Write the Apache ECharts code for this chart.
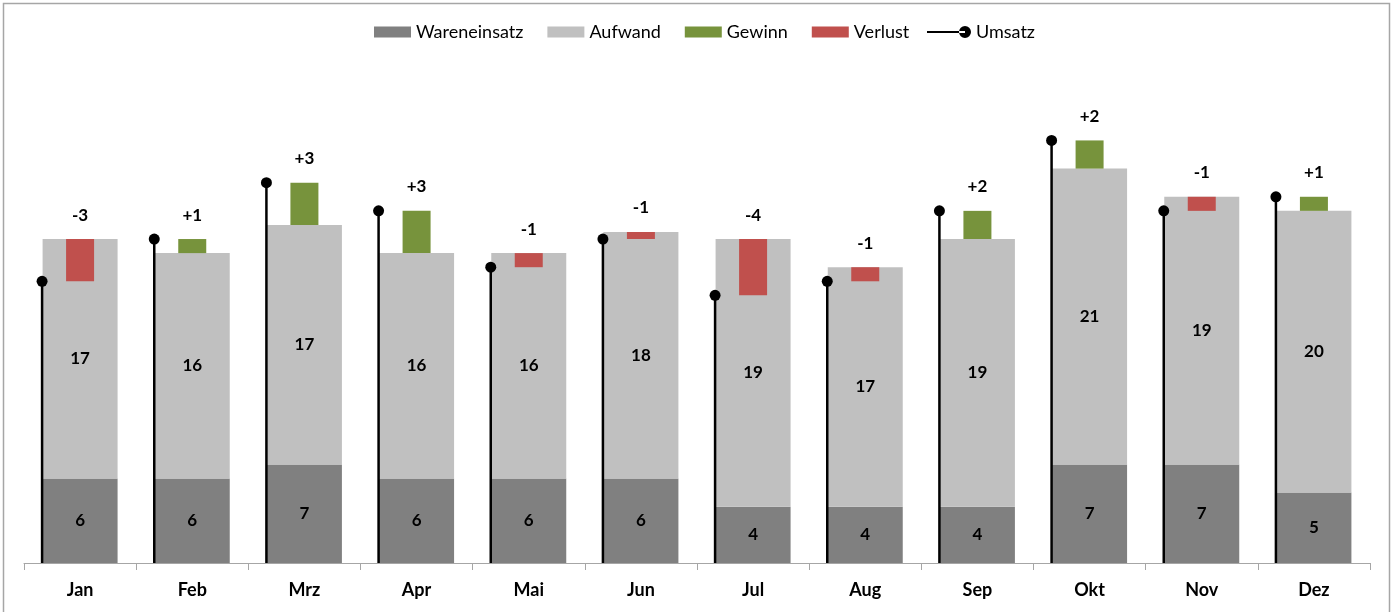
<!DOCTYPE html>
<html>
<head>
<meta charset="utf-8">
<script src="https://cdn.jsdelivr.net/npm/echarts@6/dist/echarts.min.js"></script>
<style>
  html, body { margin: 0; padding: 0; background: #fff; }
  #chart { width: 1397px; height: 612px; }
</style>
</head>
<body>
<div id="chart"></div>
<script>
var monate = ['Jan', 'Feb', 'Mrz', 'Apr', 'Mai', 'Jun', 'Jul', 'Aug', 'Sep', 'Okt', 'Nov', 'Dez'];
var wareneinsatz = [6, 6, 7, 6, 6, 6, 4, 4, 4, 7, 7, 5];
var aufwand = [17, 16, 17, 16, 16, 17.5, 19, 17, 19, 21, 19, 20];
var umsatz = [20, 23, 27, 25, 21, 23, 19, 20, 25, 30, 25, 26];

var FONT = 'Lato, "Open Sans", sans-serif';
var BAR_W = 75;
var ERG_W = 28;

// Gewinn/Verlust aus Umsatz minus Kosten
var gewinn = [];
var verlust = [];
monate.forEach(function (m, i) {
    var kosten = wareneinsatz[i] + aufwand[i];
    var diff = umsatz[i] - kosten;
    if (diff > 0) gewinn.push([i, kosten, umsatz[i], diff]);
    else if (diff < 0) verlust.push([i, umsatz[i], kosten, diff]);
});

function ergebnisText(d) {
    var r = Math.round(Math.abs(d));
    return (d > 0 ? '+' : '-') + r;
}

function renderErgebnis(color) {
    return function (params, api) {
        var x = api.value(0);
        var lo = api.coord([x, api.value(1)]);
        var hi = api.coord([x, api.value(2)]);
        return {
            type: 'group',
            children: [{
                type: 'rect',
                shape: { x: lo[0] - ERG_W / 2, y: hi[1], width: ERG_W, height: lo[1] - hi[1] },
                style: { fill: color }
            }, {
                type: 'text',
                x: lo[0],
                y: hi[1] - 24,
                style: {
                    text: ergebnisText(api.value(3)),
                    fill: '#000',
                    font: 'bold 17px ' + FONT,
                    align: 'center',
                    verticalAlign: 'middle'
                }
            }]
        };
    };
}

var labelStyle = {
    show: true, position: 'inside', color: '#000',
    fontFamily: FONT, fontSize: 17, fontWeight: 'bold',
    formatter: function (p) { return Math.round(p.value); }
};

var chart = echarts.init(document.getElementById('chart'));
chart.setOption({
    animation: false,
    backgroundColor: '#fff',
    graphic: [{
        type: 'rect',
        shape: { x: 3.5, y: 3.5, width: 1386, height: 620 },
        style: { fill: 'none', stroke: '#a6a6a6', lineWidth: 1.5 },
        silent: true
    }],
    legend: [{
        top: 18,
        left: 369,
        itemWidth: 37,
        itemHeight: 11,
        itemGap: 24,
        textStyle: { fontFamily: FONT, fontSize: 18, color: '#000' },
        data: [
            { name: 'Wareneinsatz', icon: 'rect' },
            { name: 'Aufwand', icon: 'rect' },
            { name: 'Gewinn', icon: 'rect' },
            { name: 'Verlust', icon: 'rect' }
        ]
    }, {
        top: 18,
        left: 922,
        itemWidth: 44,
        itemHeight: 12,
        textStyle: { fontFamily: FONT, fontSize: 18, color: '#000' },
        data: [
            { name: 'Umsatz', icon: 'path://M0,5 L38,5 L38,7 L0,7 Z M32,6 A6,6 0 1,0 44,6 A6,6 0 1,0 32,6 Z' }
        ]
    }],
    grid: { left: 24, right: 27, top: 70, bottom: 49 },
    xAxis: {
        type: 'category',
        data: monate,
        axisLine: { lineStyle: { color: '#a6a6a6', width: 1 } },
        axisTick: { show: true, length: 7, lineStyle: { color: '#a6a6a6' } },
        axisLabel: { margin: 18, color: '#000', fontFamily: FONT, fontSize: 18, fontWeight: 'bold' }
    },
    yAxis: {
        type: 'value',
        min: 0,
        max: 35,
        show: false,
        splitLine: { show: false }
    },
    series: [{
        name: 'Wareneinsatz',
        type: 'bar',
        stack: 'kosten',
        barWidth: BAR_W,
        data: wareneinsatz,
        itemStyle: { color: '#808080' },
        label: labelStyle
    }, {
        name: 'Aufwand',
        type: 'bar',
        stack: 'kosten',
        barWidth: BAR_W,
        data: aufwand,
        itemStyle: { color: '#c0c0c0' },
        label: labelStyle
    }, {
        name: 'Gewinn',
        type: 'custom',
        itemStyle: { color: '#77933c' },
        renderItem: renderErgebnis('#77933c'),
        data: gewinn,
        z: 3
    }, {
        name: 'Verlust',
        type: 'custom',
        itemStyle: { color: '#c0504d' },
        renderItem: renderErgebnis('#c0504d'),
        data: verlust,
        z: 3
    }, {
        name: 'Umsatz',
        type: 'custom',
        itemStyle: { color: '#000' },
        data: umsatz.map(function (v, i) { return [i, v]; }),
        z: 4,
        renderItem: function (params, api) {
            var top = api.coord([api.value(0), api.value(1)]);
            var base = api.coord([api.value(0), 0]);
            var x = top[0] - BAR_W / 2 - 0.5;
            return {
                type: 'group',
                children: [{
                    type: 'line',
                    shape: { x1: x, y1: base[1], x2: x, y2: top[1] },
                    style: { stroke: '#000', lineWidth: 2.5 }
                }, {
                    type: 'circle',
                    shape: { cx: x, cy: top[1], r: 5.5 },
                    style: { fill: '#000' }
                }]
            };
        }
    }]
});
</script>
</body>
</html>
